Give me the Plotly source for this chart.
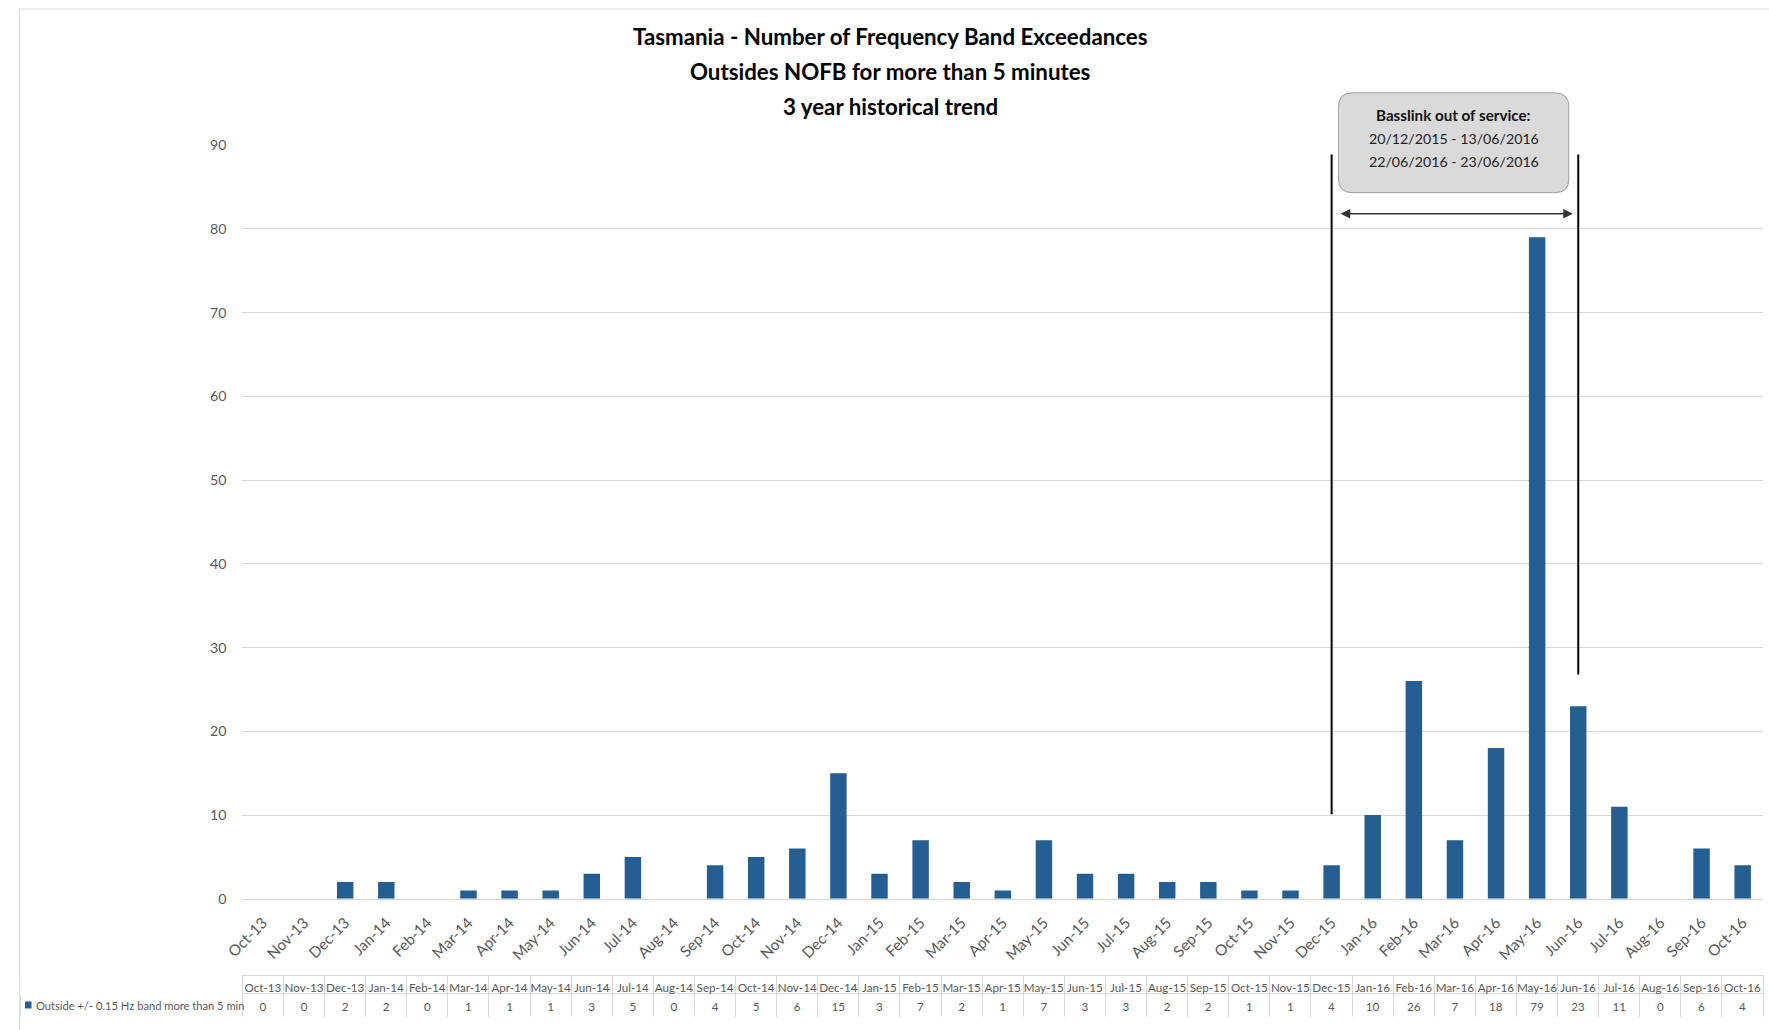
import plotly.graph_objects as go

# ---------------- data ----------------
months = ["Oct-13", "Nov-13", "Dec-13", "Jan-14", "Feb-14", "Mar-14", "Apr-14", "May-14",
          "Jun-14", "Jul-14", "Aug-14", "Sep-14", "Oct-14", "Nov-14", "Dec-14", "Jan-15",
          "Feb-15", "Mar-15", "Apr-15", "May-15", "Jun-15", "Jul-15", "Aug-15", "Sep-15",
          "Oct-15", "Nov-15", "Dec-15", "Jan-16", "Feb-16", "Mar-16", "Apr-16", "May-16",
          "Jun-16", "Jul-16", "Aug-16", "Sep-16", "Oct-16"]
exceedances = [0, 0, 2, 2, 0, 1, 1, 1, 3, 5, 0, 4, 5, 6, 15, 3,
               7, 2, 1, 7, 3, 3, 2, 2, 1, 1, 4, 10, 26, 7, 18, 79,
               23, 11, 0, 6, 4]
series_name = "Outside +/- 0.15 Hz band more than 5 min"
title_lines = ["Tasmania - Number of Frequency Band Exceedances",
               "Outsides NOFB for more than 5 minutes",
               "3 year historical trend"]
box_title = "Basslink out of service:"
box_lines = ["20/12/2015 - 13/06/2016", "22/06/2016 - 23/06/2016"]
y_ticks = [0, 10, 20, 30, 40, 50, 60, 70, 80, 90]

# ---------------- layout helpers (target pixel -> paper) ----------------
# the rendered page is shown slightly scaled and offset; compensate for it
W, H = 1769, 1030
SX, SY, AX, AY = 0.988, 0.985, 21.0, 8.0
S = (SX + SY) / 2
def fx(x):
    return (x - AX) / SX
def fy(y):
    return (y - AY) / SY
def px(x):
    return min(max(fx(x) / W, 0.0), 1.0)
def py(y):
    return min(max(1 - fy(y) / H, 0.0), 1.0)
def sz(v):
    return v / S

FONT = "Lato, 'Open Sans', sans-serif"
BAR = "#255e91"
GRID = "#d9d9d9"
TXT = "#595959"
LEFT, RIGHT = 245, 1763

fig = go.Figure()

fig.add_trace(go.Bar(
    x=months, y=exceedances, name=series_name,
    marker=dict(color=BAR, line=dict(width=0)),
    showlegend=False, xaxis="x", yaxis="y",
))

# data table under the chart
ncol = len(months)
tab_l, tab_r = px(23), px(RIGHT)
first_w = (px(LEFT) - tab_l)
cat_w = (tab_r - px(LEFT)) / ncol
fig.add_trace(go.Table(
    domain=dict(x=[tab_l, tab_r], y=[py(1018), py(976)]),
    columnwidth=[first_w] + [cat_w] * ncol,
    header=dict(
        values=[""] + months,
        height=18 / SY,
        align=["left"] + ["center"] * ncol,
        fill=dict(color="white"),
        line=dict(color=["white"] + [GRID] * ncol, width=1),
        font=dict(family=FONT, size=sz(11.5), color=TXT),
    ),
    cells=dict(
        values=[[""]] + [[str(v)] for v in exceedances],
        height=24 / SY,
        align=["left"] + ["center"] * ncol,
        fill=dict(color="white"),
        line=dict(color=GRID, width=1),
        font=dict(family=FONT, size=sz(11.5), color=TXT),
    ),
))

shapes = [
    # outer chart border
    dict(type="rect", xref="paper", yref="paper", x0=0.001, x1=1.01, y0=-0.01, y1=py(6),
         line=dict(color=GRID, width=1), fillcolor="rgba(0,0,0,0)", layer="below"),
    # Basslink period bracket lines
    dict(type="line", xref="x", yref="y", x0=26, x1=26, y0=10.1, y1=88.9,
         line=dict(color="black", width=2)),
    dict(type="line", xref="x", yref="y", x0=32, x1=32, y0=26.8, y1=88.9,
         line=dict(color="black", width=2)),
    # legend key square in the table
    dict(type="rect", xref="paper", yref="paper", x0=px(28), x1=px(34.5), y0=py(1009), y1=py(1002),
         fillcolor=BAR, line=dict(width=0)),
]

# rounded callout box (paper coords)
bx0, bx1, by0, by1 = px(1339), px(1569), py(192), py(92)
rx, ry = (14 / SX) / W, (14 / SY) / H
path = (f"M {bx0+rx},{by0} L {bx1-rx},{by0} Q {bx1},{by0} {bx1},{by0+ry} "
        f"L {bx1},{by1-ry} Q {bx1},{by1} {bx1-rx},{by1} "
        f"L {bx0+rx},{by1} Q {bx0},{by1} {bx0},{by1-ry} "
        f"L {bx0},{by0+ry} Q {bx0},{by0} {bx0+rx},{by0} Z")
shapes.append(dict(type="path", xref="paper", yref="paper", path=path,
                   fillcolor="#dadada", line=dict(color="#a0a0a0", width=1)))

annotations = []
for t, yy in zip(title_lines, [36, 71, 106]):
    annotations.append(dict(text=f"<b>{t}</b>", xref="paper", yref="paper", x=px(892), y=py(yy),
                            showarrow=False, xanchor="center", yanchor="middle",
                            font=dict(family=FONT, size=sz(22), color="#000000")))
annotations.append(dict(text=f"<b>{box_title}</b>", xref="paper", yref="paper", x=px(1454), y=py(114),
                        showarrow=False, xanchor="center", yanchor="middle",
                        font=dict(family=FONT, size=sz(15), color="#111111")))
for t, yy in zip(box_lines, [138, 161]):
    annotations.append(dict(text=t, xref="paper", yref="paper", x=px(1454), y=py(yy),
                            showarrow=False, xanchor="center", yanchor="middle",
                            font=dict(family=FONT, size=sz(14), color="#222222")))
# legend label in the table
annotations.append(dict(text=series_name, xref="paper", yref="paper", x=px(37), y=py(1006),
                        showarrow=False, xanchor="left", yanchor="middle",
                        font=dict(family=FONT, size=sz(11), color=TXT)))
# double-headed arrow
annotations.append(dict(text="", xref="paper", yref="paper", x=px(1573), y=py(213),
                        ax=-(1573 - 1342) / SX, ay=0, axref="pixel", ayref="pixel",
                        showarrow=True, arrowside="end+start", arrowhead=2, arrowsize=1.2,
                        arrowwidth=1.6, arrowcolor="#333333"))

fig.update_layout(
    width=W, height=H,
    margin=dict(l=0, r=0, t=0, b=0),
    paper_bgcolor="white", plot_bgcolor="white",
    font=dict(family=FONT, color=TXT),
    bargap=0.6,
    xaxis=dict(domain=[px(LEFT), px(RIGHT)], type="category", categoryorder="array",
               categoryarray=months, tickangle=-45, ticks="outside", ticklen=sz(8),
               tickcolor="rgba(0,0,0,0)", tickfont=dict(family=FONT, size=sz(15), color=TXT),
               showgrid=False, showline=True, linecolor=GRID, linewidth=1, fixedrange=True),
    yaxis=dict(domain=[py(899.2), py(144.4)], range=[0, 90], tickvals=y_ticks,
               ticks="outside", ticklen=sz(12), tickcolor="rgba(0,0,0,0)",
               tickfont=dict(family=FONT, size=sz(14), color=TXT),
               showgrid=True, gridcolor=GRID, gridwidth=1, zeroline=False,
               showline=False, fixedrange=True),
    shapes=shapes,
    annotations=annotations,
)

fig.write_html("out.html")
